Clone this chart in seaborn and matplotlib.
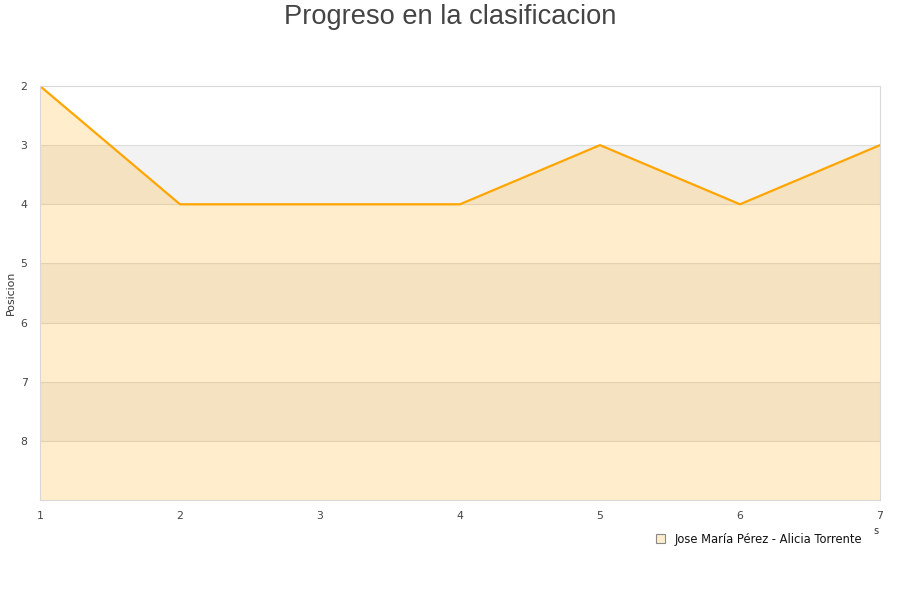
import matplotlib
matplotlib.use("Agg")
import matplotlib.pyplot as plt
import seaborn as sns
import pandas as pd
from matplotlib.patches import Patch

jornadas = [1, 2, 3, 4, 5, 6, 7]
posiciones = [2, 4, 4, 4, 3, 4, 3]
pareja = "Jose María Pérez - Alicia Torrente"
y_ticks = [2, 3, 4, 5, 6, 7, 8]

sns.set_theme(style="white")
plt.rcParams['font.family'] = ['DejaVu Sans']

df = pd.DataFrame({"Jornada": jornadas, "Posicion": posiciones})

fig = plt.figure(figsize=(9, 6), dpi=100)
ax = fig.add_axes([40/900, 1-500/600, 840/900, 414/600])

ymin, ymax = 2, 9
# alternating bands
for i, lo in enumerate(range(ymin, ymax)):
    if i % 2 == 1:
        ax.axhspan(lo, lo + 1, color="#f2f2f2", zorder=0, lw=0)
for t in range(ymin + 1, ymax):
    ax.axhline(t, color="#dddddd", lw=0.8, zorder=0.5)

ax.fill_between(df["Jornada"], df["Posicion"], ymax, color="#ffa500", alpha=0.2, lw=0, zorder=1)
sns.lineplot(data=df, x="Jornada", y="Posicion", ax=ax, color="#ffa500", lw=1.6, zorder=2)

ax.set_xlim(1, 7)
ax.set_ylim(ymax, ymin)
ax.set_xticks(jornadas)
ax.set_yticks(y_ticks)
ax.tick_params(axis="both", length=0, labelsize=7.8, labelcolor="#444444")
ax.tick_params(axis="x", pad=8)
ax.tick_params(axis="y", pad=9)
ax.set_xlabel("")
ax.set_ylabel("")
fig.text(11/900, 1-293/600, "Posicion", rotation=90, ha="center", va="center",
         fontsize=7.8, color="#333333")
for s in ax.spines.values():
    s.set_color("#d8d8d8")
    s.set_linewidth(0.8)

fig.text(0.5, 1-17/600, "Progreso en la clasificacion", ha="center", va="center",
         fontsize=19.6, color="#444444", family=["Liberation Sans", "DejaVu Sans"])
fig.text(876/900, 1-531/600, "s", ha="center", va="center", fontsize=7, color="#333333")

handle = Patch(facecolor="#ffeccc", edgecolor="#888888", linewidth=0.8)
fig.legend([handle], [pareja], loc="center left", bbox_to_anchor=(656/900, 1-539/600),
           frameon=False, fontsize=8.3, handlelength=0.75, handleheight=0.75, handletextpad=0.9,
           borderpad=0, borderaxespad=0, labelcolor="#111111")

fig.savefig("out.png", dpi=100)
